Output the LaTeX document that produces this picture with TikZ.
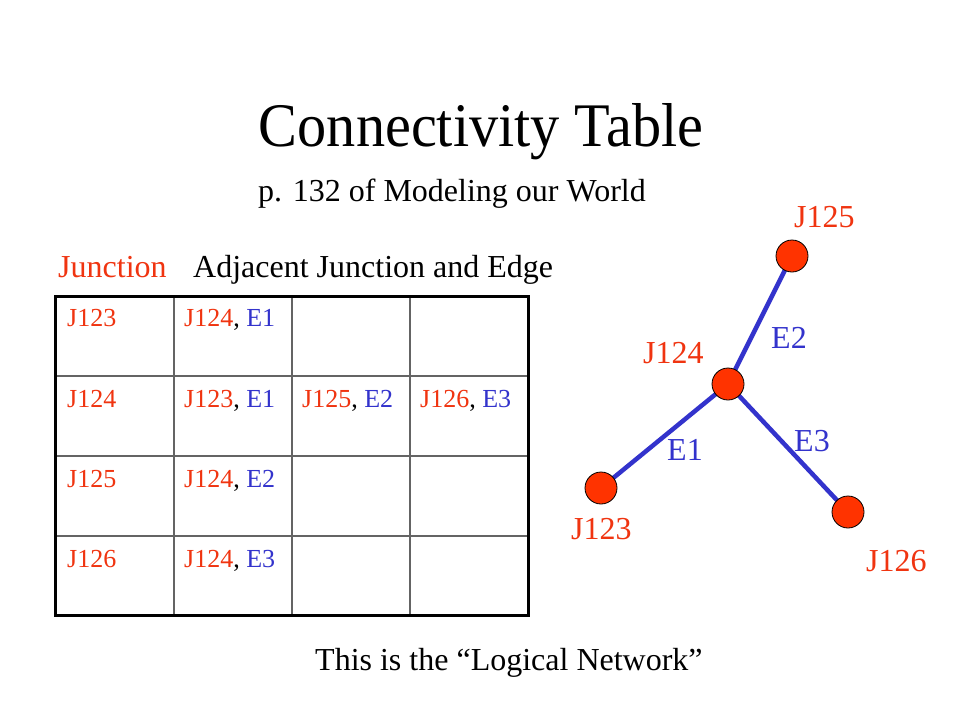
\documentclass[tikz,border=0pt]{standalone}
\usepackage{fontspec}
\setmainfont{Liberation Serif}
\usepackage{graphicx}
\definecolor{jred}{RGB}{240,52,16}
\definecolor{nodefill}{RGB}{255,51,0}
\definecolor{eblue}{RGB}{51,51,204}
\definecolor{gridgray}{RGB}{100,100,100}
\begin{document}
\begin{tikzpicture}[x=1pt,y=-1pt,
  txt/.style={inner sep=0pt,anchor=base west,font=\fontsize{32}{32}\selectfont},
  celltxt/.style={inner sep=0pt,anchor=base west,font=\fontsize{26}{26}\selectfont},
  jlabel/.style={txt,text=jred},
  elabel/.style={txt,text=eblue},
  junc/.style={circle,draw=black,line width=0.8pt,fill=nodefill,minimum size=32pt,inner sep=0pt},
  edgeline/.style={draw=eblue,line width=4.5pt}]
\useasboundingbox (0,0) rectangle (960,720);
\fill[white] (0,0) rectangle (960,720);
% title
\node[inner sep=0pt,anchor=base] (title) at (481,146) {\fontsize{62}{62}\selectfont\scalebox{0.94}[1]{Connectivity Table}};
\node[txt] (sub) at (258,201) {p. 132 of Modeling our World};
\node[jlabel] (hjunc) at (58,277) {Junction};
\node[txt] (hadj) at (193,277) {Adjacent Junction and Edge};
\node[txt] (bottom) at (315,670) {This is the ``Logical Network''};
% table grid
\draw[gridgray,line width=2pt] (174,296) -- (174,615) (292,296) -- (292,615) (410,296) -- (410,615);
\draw[gridgray,line width=2pt] (55,376) -- (528,376) (55,456) -- (528,456) (55,536) -- (528,536);
\draw[black,line width=3pt] (55,296) rectangle (528,615);
% table text
\node[celltxt,text=jred] (r1c1) at (67,326) {J123};
\node[celltxt] (r1c2) at (184,326) {\color{jred}J124\color{black}, \color{eblue}E1};
\node[celltxt,text=jred] (r2c1) at (67,407) {J124};
\node[celltxt] (r2c2) at (184,407) {\color{jred}J123\color{black}, \color{eblue}E1};
\node[celltxt] (r2c3) at (302,407) {\color{jred}J125\color{black}, \color{eblue}E2};
\node[celltxt] (r2c4) at (420,407) {\color{jred}J126\color{black}, \color{eblue}E3};
\node[celltxt,text=jred] (r3c1) at (67,487) {J125};
\node[celltxt] (r3c2) at (184,487) {\color{jred}J124\color{black}, \color{eblue}E2};
\node[celltxt,text=jred] (r4c1) at (67,567) {J126};
\node[celltxt] (r4c2) at (184,567) {\color{jred}J124\color{black}, \color{eblue}E3};
% graph
\coordinate (c125) at (792,256);
\coordinate (c124) at (728,384);
\coordinate (c123) at (601,488);
\coordinate (c126) at (848,512);
\draw[edgeline] (c124) -- (c125);
\draw[edgeline] (c124) -- (c123);
\draw[edgeline] (c124) -- (c126);
\node[junc] (j125) at (c125) {};
\node[junc] (j124) at (c124) {};
\node[junc] (j123) at (c123) {};
\node[junc] (j126) at (c126) {};
\node[jlabel] (l125) at (794,227) {J125};
\node[jlabel] (l124) at (643,363) {J124};
\node[jlabel] (l123) at (571,539) {J123};
\node[jlabel] (l126) at (866,571) {J126};
\node[elabel] (e2) at (771,348) {E2};
\node[elabel] (e1) at (667,460) {E1};
\node[elabel] (e3) at (794,451) {E3};
\end{tikzpicture}
\end{document}
